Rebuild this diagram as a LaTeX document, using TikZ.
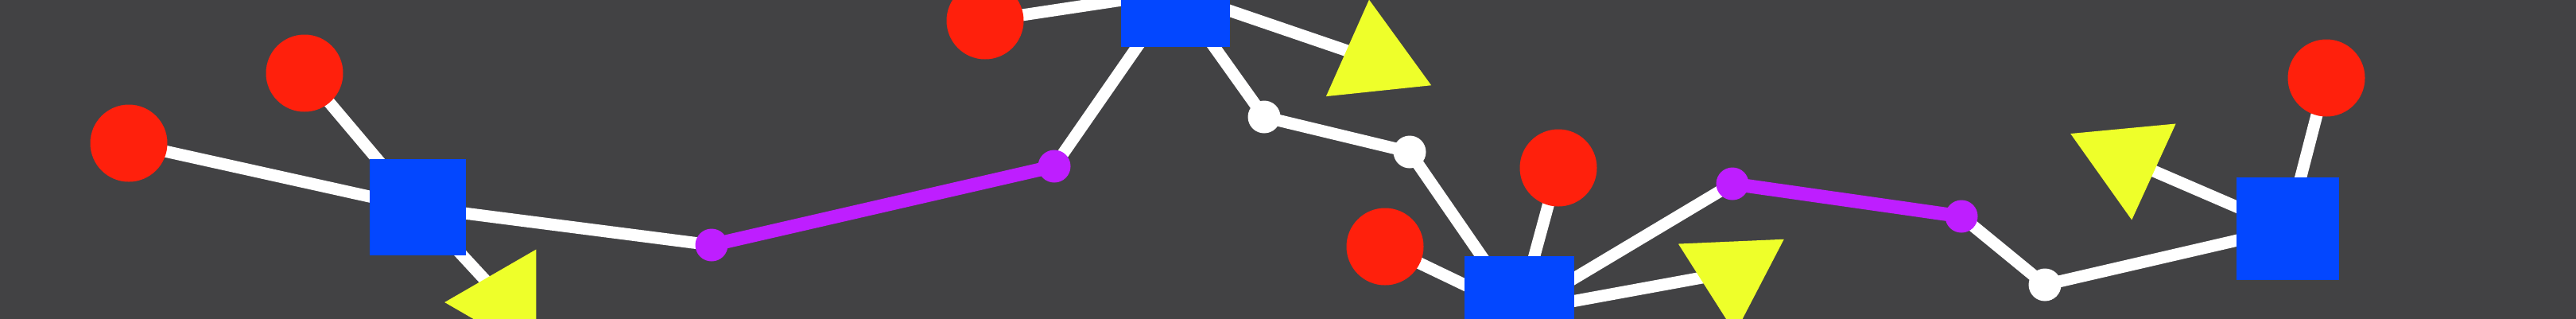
\documentclass[tikz,border=0pt]{standalone}
\usepackage{xcolor}
\usepackage{tikz}
\usetikzlibrary{shapes.geometric,backgrounds}
\definecolor{bgcol}{RGB}{66,66,68}
\definecolor{hubcol}{RGB}{3,71,255}
\definecolor{leafcol}{RGB}{255,32,12}
\definecolor{flagcol}{RGB}{238,255,42}
\definecolor{linkcol}{RGB}{190,30,255}
\tikzset{hub/.style={rectangle,fill=hubcol,inner sep=0pt,outer sep=0pt,minimum size=#1},
  leaf/.style={circle,fill=leafcol,inner sep=0pt,minimum size=0.97cm},
  flag/.style={regular polygon,regular polygon sides=3,fill=flagcol,inner sep=0pt,outer sep=0pt,
    minimum size=1.536cm,shape border rotate=#1},
  joint/.style={circle,fill=#1,inner sep=0pt,minimum size=0.41cm},
  wire/.style={white,line width=0.15cm},
  bridge/.style={linkcol,line width=0.17cm}}

\begin{document}
\begin{tikzpicture}
    \useasboundingbox (0,0) rectangle (32.4,4);

    % Hubs
    \node[hub=1.21cm] (h1) at (5.255,1.395) {};
    \node[hub=1.37cm] (h2) at (14.78,4.10) {};
    \node[hub=1.38cm] (h3) at (19.11,0.09) {};
    \node[hub=1.29cm] (h4) at (28.77,1.125) {};

    % Leaves
    \node[leaf] (l1) at (1.62,2.20) {};
    \node[leaf] (l2) at (3.83,3.08) {};
    \node[leaf] (l3) at (12.39,3.74) {};
    \node[leaf] (l4) at (17.42,0.90) {};
    \node[leaf] (l5) at (19.60,1.89) {};
    \node[leaf] (l6) at (29.26,3.02) {};

    % Triangles
    \node[flag=90] (t1) at (6.36,0.20) {};
    \node[flag=6] (t2) at (17.30,3.24) {};
    \node[flag=62.5] (t3) at (21.79,0.58) {};
    \node[flag=65.4] (t4) at (26.74,2.00) {};

    % Joints
    \node[joint=linkcol] (m1) at (8.95,0.92) {};
    \node[joint=linkcol] (m2) at (13.26,1.91) {};
    \node[joint=linkcol] (m3) at (21.79,1.69) {};
    \node[joint=linkcol] (m4) at (24.67,1.28) {};
    \node[joint=white] (w1) at (15.90,2.53) {};
    \node[joint=white] (w2) at (17.73,2.09) {};
    \node[joint=white] (w3) at (25.72,0.42) {};

    % Connectors
    \begin{pgfonlayer}{background}
    \fill[bgcol] (-0.2,-0.2) rectangle (32.6,4.2);
    \foreach \a/\b in {l1/h1,l2/h1,h1/t1,h1/m1,m2/h2,l3/h2,h2/t2,h2/w1,w1/w2,w2/h3,
        l4/h3,l5/h3,h3/m3,h3/t3,m4/w3,w3/h4,h4/t4,h4/l6}
      \draw[wire] (\a.center) -- (\b.center);
    \draw[bridge] (m1.center) -- (m2.center);
    \draw[bridge] (m3.center) -- (m4.center);
    \end{pgfonlayer}
\end{tikzpicture}
\end{document}
